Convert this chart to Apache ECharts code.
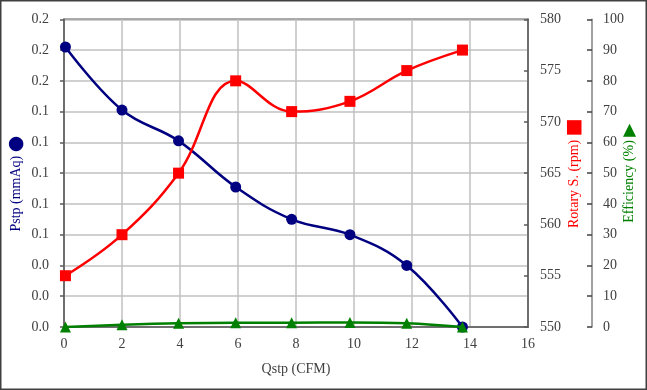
<!DOCTYPE html>
<html>
<head>
<meta charset="utf-8">
<script src="https://cdn.jsdelivr.net/npm/echarts@6/dist/echarts.min.js"></script>
<style>
html,body{margin:0;padding:0;background:#fff;}
#c{width:647px;height:390px;}
</style>
</head>
<body>
<div id="c"></div>
<script>
// Flow rate Qstp (CFM)
const qstp = [0.05, 2.0, 3.95, 5.92, 7.85, 9.86, 11.82, 13.74];
// Static pressure Pstp (mmAq)
const pstp = [0.182, 0.141, 0.121, 0.091, 0.070, 0.060, 0.040, 0.000];
// Rotary speed (rpm)
const rotary = [555.0, 559.0, 565.0, 574.0, 571.0, 572.0, 575.0, 577.0];
// Efficiency (%)
const efficiency = [0.0, 0.7, 1.2, 1.4, 1.4, 1.5, 1.2, 0.0];

const pair = (xs, ys) => xs.map((x, i) => [x, ys[i]]);

const FONT = 'Liberation Serif';
const LABEL = {fontFamily: FONT, fontSize: 14, color: '#404040'};

const chart = echarts.init(document.getElementById('c'), null, {renderer: 'canvas'});
chart.setOption({
  animation: false,
  backgroundColor: '#fff',
  graphic: [{
    type: 'rect', silent: true, z: 100,
    shape: {x: 0.75, y: 0.75, width: 645.5, height: 388.5},
    style: {fill: 'none', stroke: '#404040', lineWidth: 1.5}
  }],
  grid: {
    left: 64, right: 119, top: 19.3, bottom: 63,
    containLabel: false, outerBoundsMode: 'none',
    show: true, borderColor: '#595959', borderWidth: 1.5, backgroundColor: 'transparent'
  },
  xAxis: {
    type: 'value', min: 0, max: 16, interval: 2,
    name: 'Qstp (CFM)', nameLocation: 'middle', nameGap: 35, nameMoveOverlap: false,
    nameTextStyle: {fontFamily: FONT, fontSize: 14, color: '#404040'},
    axisLine: {show: true, lineStyle: {color: '#595959', width: 1.5}},
    axisTick: {show: false},
    axisLabel: Object.assign({margin: 10}, LABEL),
    splitLine: {show: true, lineStyle: {color: '#c0c0c0', width: 1.5}}
  },
  yAxis: [{
    type: 'value', min: 0, max: 0.2, interval: 0.02, position: 'left',
    name: 'Pstp (mmAq) {m|●}', nameLocation: 'middle', nameGap: 38, nameRotate: 90,
    nameMoveOverlap: false,
    nameTextStyle: {fontFamily: FONT, fontSize: 14, color: '#000080', padding: [0, 21, 0, 0],
      rich: {m: {fontFamily: 'DejaVu Sans', fontSize: 19, color: '#000080'}}},
    axisLine: {show: true, lineStyle: {color: '#595959', width: 1.5}},
    axisTick: {show: true, length: 4, lineStyle: {color: '#595959', width: 1.5}},
    axisLabel: Object.assign({margin: 15, formatter: v => v.toFixed(1)}, LABEL),
    splitLine: {show: true, lineStyle: {color: '#c0c0c0', width: 1.5}}
  }, {
    type: 'value', min: 550, max: 580, interval: 5, position: 'right',
    name: 'Rotary S. (rpm) {m|■}', nameLocation: 'middle', nameGap: 37, nameRotate: 90,
    nameMoveOverlap: false,
    nameTextStyle: {fontFamily: FONT, fontSize: 14, color: '#ff0000',
      rich: {m: {fontFamily: 'DejaVu Sans', fontSize: 19, color: '#ff0000'}}},
    axisLine: {show: true, lineStyle: {color: '#595959', width: 1.5}},
    axisTick: {show: true, inside: true, length: 4, lineStyle: {color: '#595959', width: 1.5}},
    axisLabel: Object.assign({margin: 12}, LABEL),
    splitLine: {show: false}
  }, {
    type: 'value', min: 0, max: 100, interval: 10, position: 'right', offset: 64,
    name: 'Efficiency (%) {m|▶}', nameLocation: 'middle', nameGap: 29, nameRotate: 90,
    nameMoveOverlap: false,
    nameTextStyle: {fontFamily: FONT, fontSize: 14, color: '#008000',
      rich: {m: {fontFamily: 'DejaVu Sans', fontSize: 17, color: '#008000'}}},
    axisLine: {show: true, lineStyle: {color: '#808080', width: 1.5}},
    axisTick: {show: true, inside: true, length: 5, lineStyle: {color: '#404040', width: 1.5}},
    axisLabel: Object.assign({margin: 11}, LABEL),
    splitLine: {show: false}
  }],
  series: [{
    name: 'Pstp', type: 'line', yAxisIndex: 0, data: pair(qstp, pstp),
    smooth: 0.4, symbol: 'circle', symbolSize: 11,
    lineStyle: {color: '#000080', width: 2.5}, itemStyle: {color: '#000080'}, z: 3
  }, {
    name: 'Rotary S.', type: 'line', yAxisIndex: 1, data: pair(qstp, rotary),
    smooth: 0.4, symbol: 'rect', symbolSize: 11,
    lineStyle: {color: '#ff0000', width: 2.5}, itemStyle: {color: '#ff0000'}, z: 4
  }, {
    name: 'Efficiency', type: 'line', yAxisIndex: 2, data: pair(qstp, efficiency),
    smooth: 0.4, symbol: 'triangle', symbolSize: 11,
    lineStyle: {color: '#008000', width: 2.5}, itemStyle: {color: '#008000'}, z: 5
  }]
});
</script>
</body>
</html>
